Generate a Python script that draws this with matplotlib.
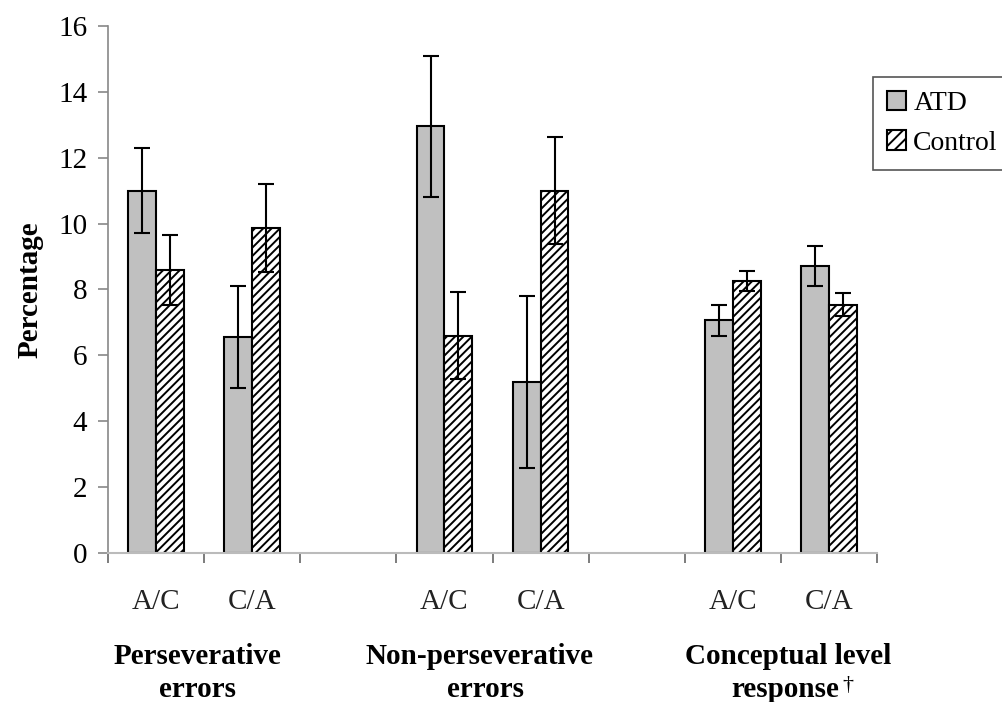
import matplotlib
matplotlib.use("Agg")
import matplotlib.pyplot as plt
import matplotlib.patches as mpatches
import numpy as np

plt.rcParams['font.family'] = ['Liberation Serif', 'DejaVu Serif']
plt.rcParams['hatch.linewidth'] = 1.4

# data
conditions = ["A/C", "C/A", "", "A/C", "C/A", "", "A/C", "C/A"]
atd_mean = [11.0, 6.55, None, 12.95, 5.19, None, 7.06, 8.72]
atd_err = [1.28, 1.55, None, 2.15, 2.6, None, 0.47, 0.6]
ctrl_mean = [8.59, 9.87, None, 6.6, 11.0, None, 8.26, 7.54]
ctrl_err = [1.07, 1.33, None, 1.33, 1.62, None, 0.31, 0.36]

fig = plt.figure(figsize=(10.03, 7.02), dpi=100)
ax = fig.add_axes([0.1077, 0.2123, 0.7667, 0.7507])

idx = [i for i, v in enumerate(atd_mean) if v is not None]
x = np.array(idx, dtype=float)
a = [atd_mean[i] for i in idx]
ae = [atd_err[i] for i in idx]
c = [ctrl_mean[i] for i in idx]
ce = [ctrl_err[i] for i in idx]

w = 0.29
ax.bar(x - w / 2, a, width=w, color='#c0c0c0', edgecolor='black', linewidth=1.5, zorder=2)
ax.bar(x + w / 2, c, width=w, color='white', edgecolor='black', linewidth=1.5,
       hatch='////', zorder=2)
ax.errorbar(x - w / 2, a, yerr=ae, fmt='none', ecolor='black', elinewidth=1.5,
            capsize=6, capthick=1.5, zorder=3)
ax.errorbar(x + w / 2, c, yerr=ce, fmt='none', ecolor='black', elinewidth=1.5,
            capsize=6, capthick=1.5, zorder=3)

ax.set_xlim(-0.5, len(conditions) - 0.5)
ax.set_ylim(0, 16)
ax.set_yticks(range(0, 17, 2))
ax.set_xticks(idx)
ax.set_xticklabels([conditions[i] for i in idx])
ax.set_xticks(np.arange(-0.5, len(conditions), 1.0), minor=True)

for s in ['top', 'right']:
    ax.spines[s].set_visible(False)
ax.spines['left'].set_color('#888888')
ax.spines['bottom'].set_color('#bbbbbb')
ax.spines['left'].set_linewidth(1.2)
ax.spines['bottom'].set_linewidth(1.5)

ax.tick_params(axis='y', direction='out', length=7, width=1.2, color='#888888',
               labelsize=21, pad=8)
ax.tick_params(axis='x', which='major', length=0, labelsize=21, pad=26, labelcolor='#222222')
ax.tick_params(axis='x', which='minor', direction='out', length=7, width=1.2, color='#666666')

ax.set_ylabel("Percentage", fontsize=21, fontweight='bold', labelpad=10)

# group labels under the axis
lab = dict(ha='center', va='baseline', fontsize=21, fontweight='bold')
fig.text(198 / 1003, 1 - 664 / 702, "Perseverative", **lab)
fig.text(198 / 1003, 1 - 697 / 702, "errors", **lab)
fig.text(480 / 1003, 1 - 664 / 702, "Non-perseverative", **lab)
fig.text(486 / 1003, 1 - 697 / 702, "errors", **lab)
fig.text(788 / 1003, 1 - 664 / 702, "Conceptual level", **lab)
fig.text(785 / 1003, 1 - 697 / 702, "response", **lab)
fig.text(848 / 1003, 1 - 690 / 702, "\u2020", ha='center', va='baseline', fontsize=16)

handles = [mpatches.Patch(facecolor='#c0c0c0', edgecolor='black', linewidth=1.5),
           mpatches.Patch(facecolor='white', edgecolor='black', linewidth=1.5, hatch='///')]
leg = fig.legend(handles, ["ATD", "Control"], loc='upper left',
                 bbox_to_anchor=(873 / 1003, 1 - 77 / 702), fontsize=20,
                 fancybox=False, framealpha=1, edgecolor='#555555',
                 handlelength=0.7, handleheight=0.7, handletextpad=0.25,
                 borderpad=0.5, labelspacing=0.5, borderaxespad=0)
leg.get_frame().set_linewidth(1.2)

fig.savefig("out.png", dpi=100)
